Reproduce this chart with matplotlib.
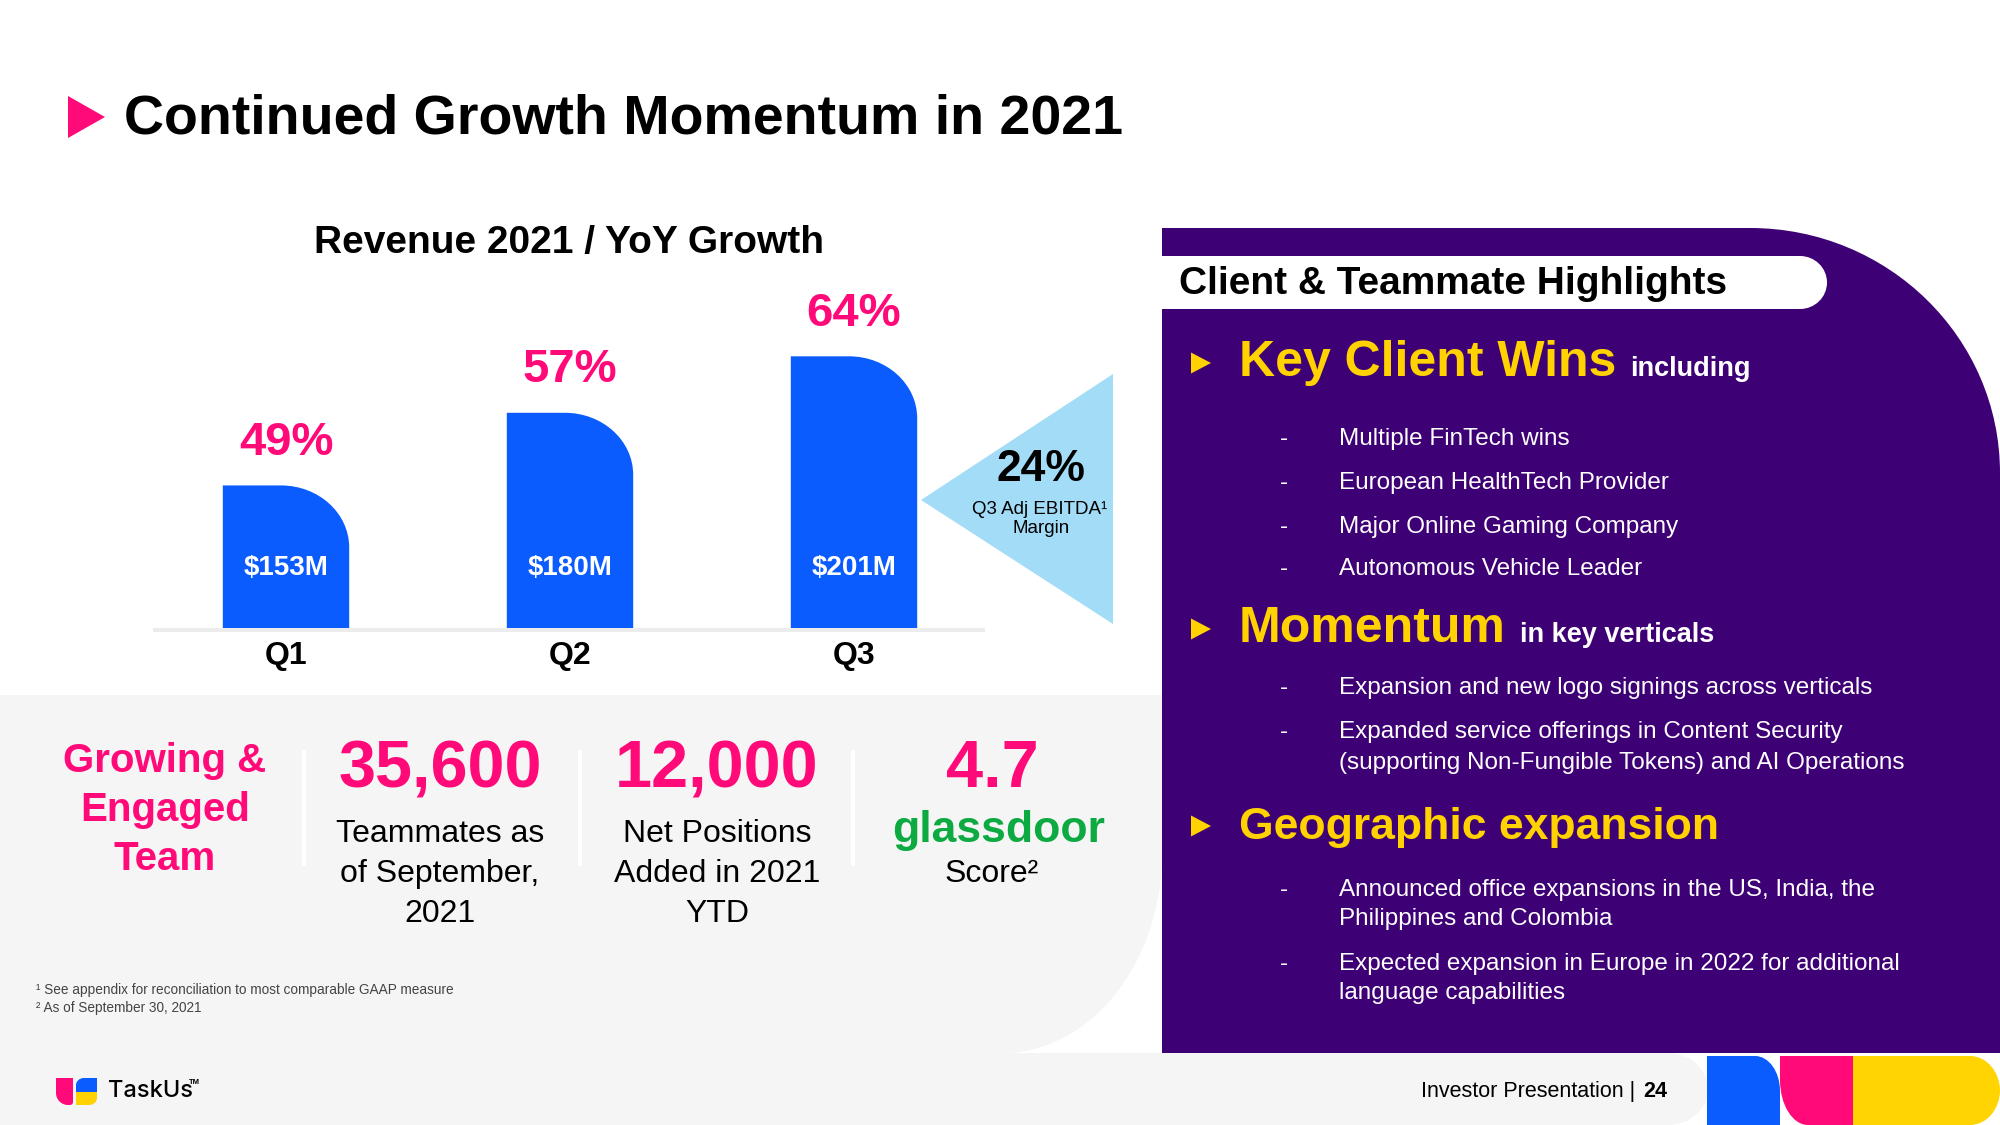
import matplotlib
matplotlib.use("Agg")
import matplotlib.pyplot as plt
from matplotlib.patches import PathPatch, Polygon
from matplotlib.path import Path

plt.rcParams['font.family'] = ['Liberation Sans', 'DejaVu Sans']

# ---------------- data ----------------
quarters = ['Q1', 'Q2', 'Q3']
revenue = [153, 180, 201]                      # $M
revenue_labels = ['$153M', '$180M', '$201M']
yoy_growth = ['49%', '57%', '64%']
ebitda_margin = '24%'
ebitda_label = ['Q3 Adj EBITDA\u00b9', 'Margin']

stat_title = ['Growing &', 'Engaged', 'Team']
stat_values = ['35,600', '12,000', '4.7']
stat_captions = [['Teammates as', 'of September,', '2021'],
                 ['Net Positions', 'Added in 2021', 'YTD'],
                 ['glassdoor', 'Score\u00b2']]

highlights = [
    ('Key Client Wins', 'including',
     [['Multiple FinTech wins'], ['European HealthTech Provider'],
      ['Major Online Gaming Company'], ['Autonomous Vehicle Leader']]),
    ('Momentum', 'in key verticals',
     [['Expansion and new logo signings across verticals'],
      ['Expanded service offerings in Content Security',
       '(supporting Non-Fungible Tokens) and AI Operations']]),
    ('Geographic expansion', '',
     [['Announced office expansions in the US, India, the',
       'Philippines and Colombia'],
      ['Expected expansion in Europe in 2022 for additional',
       'language capabilities']]),
]
footnotes = ['\u00b9 See appendix for reconciliation to most comparable GAAP measure',
             '\u00b2 As of September 30, 2021']

# ---------------- colours ----------------
PINK = '#FF0A78'
BLUE = '#0A5CFF'
PURPLE = '#3E0075'
YELLOW = '#FFD200'
LBLUE = '#A3DCF7'
GRAY = '#F5F5F5'
GREEN = '#0CAA41'

W, H = 2000, 1125
fig = plt.figure(figsize=(20, 11.25), dpi=100)
fig.patch.set_facecolor('white')
bg = fig.add_axes([0, 0, 1, 1])
bg.set_xlim(0, W)
bg.set_ylim(H, 0)
bg.axis('off')

K = 0.5523


def rpath(x0, y0, x1, y1, tl=(0, 0), tr=(0, 0), br=(0, 0), bl=(0, 0)):
    v, c = [], []
    v.append((x0 + tl[0], y0)); c.append(Path.MOVETO)
    v.append((x1 - tr[0], y0)); c.append(Path.LINETO)
    if tr != (0, 0):
        v += [(x1 - tr[0] + K * tr[0], y0), (x1, y0 + tr[1] - K * tr[1]), (x1, y0 + tr[1])]
        c += [Path.CURVE4] * 3
    v.append((x1, y1 - br[1])); c.append(Path.LINETO)
    if br != (0, 0):
        v += [(x1, y1 - br[1] + K * br[1]), (x1 - br[0] + K * br[0], y1), (x1 - br[0], y1)]
        c += [Path.CURVE4] * 3
    v.append((x0 + bl[0], y1)); c.append(Path.LINETO)
    if bl != (0, 0):
        v += [(x0 + bl[0] - K * bl[0], y1), (x0, y1 - bl[1] + K * bl[1]), (x0, y1 - bl[1])]
        c += [Path.CURVE4] * 3
    v.append((x0, y0 + tl[1])); c.append(Path.LINETO)
    if tl != (0, 0):
        v += [(x0, y0 + tl[1] - K * tl[1]), (x0 + tl[0] - K * tl[0], y0), (x0 + tl[0], y0)]
        c += [Path.CURVE4] * 3
    v.append((x0 + tl[0], y0)); c.append(Path.CLOSEPOLY)
    return Path(v, c)


def shape(path, color, ax=bg, z=1, **kw):
    ax.add_patch(PathPatch(path, facecolor=color, edgecolor='none', zorder=z,
                           clip_on=False, **kw))


def t(x, y, s, size, color='black', weight='normal', ha='left', va='baseline', z=5, **kw):
    return bg.text(x, y, s, fontsize=size, color=color, fontweight=weight, ha=ha, va=va,
                   zorder=z, **kw)


# ---------------- background shapes ----------------
shape(rpath(0, 695, 1162, 1053, br=(160, 200)), GRAY)
shape(rpath(0, 1053, 1708, 1125, tr=(40, 36), br=(40, 36)), GRAY)
shape(rpath(1707, 1056, 1780, 1125, tr=(25, 35)), BLUE)
shape(rpath(1780, 1056, 1853, 1125, bl=(28, 45)), PINK)
shape(rpath(1853, 1056, 2000, 1125, tr=(30, 35), br=(30, 35)), '#FFD400')
shape(rpath(1162, 228, 2000, 1053, tr=(250, 245)), PURPLE, z=2)
shape(rpath(1162, 256, 1827, 309, tr=(27, 26.5), br=(27, 26.5)), 'white', z=3)

# title
bg.add_patch(Polygon([(68, 96), (105, 117), (68, 138)], closed=True,
                     facecolor=PINK, edgecolor='none'))
t(124, 133, 'Continued Growth Momentum in 2021', 40, weight='bold')

# chart subtitle
t(569, 253, 'Revenue 2021 / YoY Growth', 28, weight='bold', ha='center')

# baseline
bg.plot([153, 985], [630, 630], color='#ECECEC', lw=3, solid_capstyle='butt', zorder=1)

# EBITDA triangle
bg.add_patch(Polygon([(921, 500), (1113, 374), (1113, 624)], closed=True,
                     facecolor=LBLUE, edgecolor='none', zorder=1))
t(1041, 481, ebitda_margin, 32, weight='bold', ha='center')
t(1040, 514, ebitda_label[0], 13.5, ha='center')
t(1041, 533, ebitda_label[1], 13.5, ha='center')

# ---------------- bar chart ----------------
px_per_x = 284.0
x_center0 = 286.0
ax_left_px, ax_right_px = 110.0, 1020.0
base_px = 628.0
px_per_m = 2.69
ymin, ymax = 100, 240
top_px = base_px - (ymax - ymin) * px_per_m
ax = fig.add_axes([ax_left_px / W, (H - base_px) / H,
                   (ax_right_px - ax_left_px) / W, (base_px - top_px) / H])
ax.set_xlim((ax_left_px - x_center0) / px_per_x, (ax_right_px - x_center0) / px_per_x)
ax.set_ylim(ymin, ymax)
ax.axis('off')
ax.patch.set_alpha(0)

bw = 0.445
rx = 0.54 * bw
ry = 62 / px_per_m
for i, (q, v) in enumerate(zip(quarters, revenue)):
    shape(rpath(i - bw / 2, v, i + bw / 2, ymin, tr=(rx, -ry)), BLUE, ax=ax, z=2,
          transform=ax.transData)
    ax.annotate(yoy_growth[i], xy=(i, v), xytext=(0, 22), textcoords='offset points',
                ha='center', va='baseline', color=PINK, fontsize=34, fontweight='bold')
    ax.text(i, 119.6, revenue_labels[i], ha='center', va='baseline', color='white',
            fontsize=20, fontweight='bold', zorder=4)
    ax.annotate(q, xy=(i, ymin), xytext=(0, -25.8), textcoords='offset points',
                ha='center', va='baseline', color='black', fontsize=23,
                fontweight='bold', annotation_clip=False)

# ---------------- stats strip ----------------
for y, s in zip([772, 821, 870], stat_title):
    t(165, y, s, 29, color=PINK, weight='bold', ha='center')
for x in [304, 580, 853]:
    bg.plot([x, x], [752, 864], color='white', lw=3, zorder=2)

stat_x = [440, 717, 992]
for x, s in zip(stat_x, stat_values):
    t(x, 787, s, 48, color=PINK, weight='bold', ha='center')
for x, lines in zip(stat_x[:2], stat_captions[:2]):
    for y, s in zip([842, 882, 922], lines):
        t(x, y, s, 23, ha='center')
t(999, 842, stat_captions[2][0], 32, color=GREEN, weight='bold', ha='center')
t(992, 882, stat_captions[2][1], 23, ha='center')

for y, s in zip([994, 1012], footnotes):
    t(36, y, s, 9.8, color='#444444')

# ---------------- right panel ----------------
t(1179, 294, 'Client & Teammate Highlights', 28, weight='bold', z=6)

head_base = [376, 642, 839]
head_size = [36, 36, 32]
item_bases = [[[445], [489], [533], [575]],
              [[694], [738, 769]],
              [[896, 925], [970, 999]]]
fig.canvas.draw()
renderer = fig.canvas.get_renderer()
inv = bg.transData.inverted()
for (head, sub, items), hb, hs, ib in zip(highlights, head_base, head_size, item_bases):
    cy = hb - 13
    bg.add_patch(Polygon([(1191, cy - 10.5), (1211, cy), (1191, cy + 10.5)], closed=True,
                         facecolor=YELLOW, edgecolor='none', zorder=5))
    txt = t(1239, hb, head, hs, color=YELLOW, weight='bold')
    if sub:
        ext = txt.get_window_extent(renderer=renderer)
        xr = inv.transform((ext.x1, ext.y0))[0]
        t(xr + 14, hb, sub, 19.5, color='white', weight='bold')
    for lines, bases in zip(items, ib):
        t(1284, bases[0], '-', 17.5, color='white', ha='center')
        for y, s in zip(bases, lines):
            t(1339, y, s, 17.5, color='white')

# ---------------- footer ----------------
t(1635, 1097, 'Investor Presentation |', 15.5, ha='right')
t(1667, 1097, '24', 15.5, weight='bold', ha='right')

# logo
shape(rpath(56, 1078, 73, 1105, bl=(12, 12), br=(3, 3)), PINK, z=3)
shape(rpath(76, 1078, 97, 1092, tl=(8, 7)), BLUE, z=3)
shape(rpath(76, 1092, 97, 1105, br=(8, 7)), YELLOW, z=3)
t(108, 1097, 'TaskUs', 17, weight='medium', family=['Inter', 'DejaVu Sans'])
t(189, 1084, 'TM', 5.5, weight='bold')

fig.savefig('out.png', dpi=100, facecolor='white')
